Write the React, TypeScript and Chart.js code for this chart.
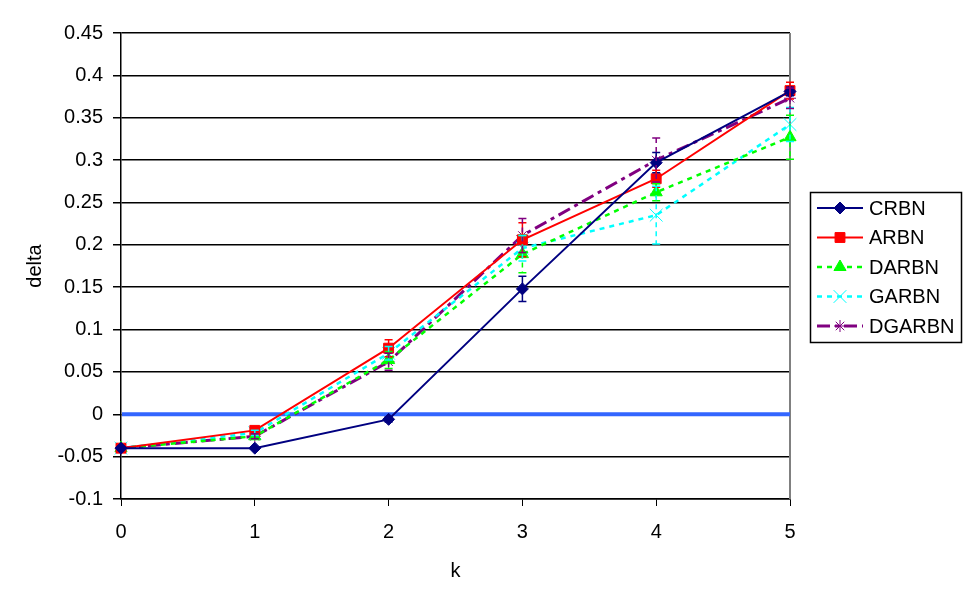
import React, { useEffect, useRef } from 'react';
import { Chart, registerables, Plugin } from 'chart.js';
import { drawPoint } from 'chart.js/helpers';

Chart.register(...registerables);

const kValues = [0, 1, 2, 3, 4, 5];
const seriesNames = ['CRBN', 'ARBN', 'DARBN', 'GARBN', 'DGARBN'];

const crbn = [-0.04, -0.04, -0.006, 0.148, 0.297, 0.381];
const arbn = [-0.04, -0.019, 0.078, 0.206, 0.278, 0.382];
const darbn = [-0.04, -0.026, 0.064, 0.189, 0.262, 0.327];
const garbn = [-0.04, -0.022, 0.072, 0.196, 0.235, 0.342];
const dgarbn = [-0.04, -0.026, 0.062, 0.211, 0.3, 0.373];

const crbnErr = [0, 0, 0.003, 0.015, 0.012, 0.005];
const arbnErr = [0, 0.003, 0.01, 0.02, 0.01, 0.01];
const darbnErr = [0, 0.003, 0.01, 0.022, 0.01, 0.026];
const garbnErr = [0, 0.003, 0.008, 0.015, 0.034, 0.02];
const dgarbnErr = [0, 0.003, 0.01, 0.02, 0.026, 0.012];

const FONT = "'Liberation Sans', Arial, sans-serif";

const styles = [
    { color: '#000080', dash: [] as number[], width: 2, point: 'rectRot', radius: 6, fill: true },
    { color: '#ff0000', dash: [] as number[], width: 2, point: 'rect', radius: 7, fill: true },
    { color: '#00ff00', dash: [5, 5], width: 2.5, point: 'triangle', radius: 7, fill: true },
    { color: '#00ffff', dash: [5, 5], width: 2.5, point: 'crossRot', radius: 9, fill: false },
    { color: '#800080', dash: [13, 5, 4, 5], width: 3, point: 'star', radius: 6, fill: false },
];

const values = [crbn, arbn, darbn, garbn, dgarbn];
const errors = [crbnErr, arbnErr, darbnErr, garbnErr, dgarbnErr];

const extrasPlugin: Plugin<'line'> = {
    id: 'extras',
    beforeDatasetsDraw(chart) {
        const { ctx, chartArea } = chart;
        const y = chart.scales.y;
        ctx.save();
        // grey right border
        ctx.strokeStyle = '#808080';
        ctx.lineWidth = 2;
        ctx.beginPath();
        ctx.moveTo(chartArea.right, chartArea.top);
        ctx.lineTo(chartArea.right, chartArea.bottom);
        ctx.stroke();
        // zero line
        const y0 = y.getPixelForValue(0);
        ctx.strokeStyle = '#3366ff';
        ctx.lineWidth = 4;
        ctx.beginPath();
        ctx.moveTo(chartArea.left + 1, y0);
        ctx.lineTo(chartArea.right, y0);
        ctx.stroke();
        ctx.restore();
    },
    afterDatasetsDraw(chart) {
        const { ctx } = chart;
        const xs = chart.scales.x;
        const ys = chart.scales.y;
        ctx.save();
        errors.forEach((errs, i) => {
            const st = styles[i];
            ctx.strokeStyle = st.color;
            ctx.lineWidth = 1.5;
            errs.forEach((e, j) => {
                if (!e) return;
                const px = xs.getPixelForValue(kValues[j]);
                const top = ys.getPixelForValue(values[i][j] + e);
                const bot = ys.getPixelForValue(values[i][j] - e);
                ctx.setLineDash(st.dash.length ? [5, 4] : []);
                ctx.beginPath();
                ctx.moveTo(px, top);
                ctx.lineTo(px, bot);
                ctx.stroke();
                ctx.setLineDash([]);
                ctx.beginPath();
                ctx.moveTo(px - 4, top);
                ctx.lineTo(px + 4, top);
                ctx.moveTo(px - 4, bot);
                ctx.lineTo(px + 4, bot);
                ctx.stroke();
            });
        });
        ctx.restore();
    },
    afterDraw(chart) {
        const { ctx } = chart;
        ctx.save();
        ctx.fillStyle = '#ffffff';
        ctx.fillRect(810, 192, 151, 150);
        ctx.strokeStyle = '#000000';
        ctx.lineWidth = 1.5;
        ctx.strokeRect(810.5, 192.5, 151, 150);
        ctx.font = `20px ${FONT}`;
        ctx.textBaseline = 'middle';
        ctx.textAlign = 'left';
        seriesNames.forEach((name, i) => {
            const st = styles[i];
            const ly = 208 + i * 29.5;
            ctx.strokeStyle = st.color;
            ctx.lineWidth = st.width;
            ctx.setLineDash(st.dash);
            ctx.beginPath();
            ctx.moveTo(817, ly);
            ctx.lineTo(863, ly);
            ctx.stroke();
            ctx.setLineDash([]);
            ctx.fillStyle = st.color;
            ctx.lineWidth = 1;
            drawPoint(ctx, { pointStyle: st.point as any, radius: st.radius, rotation: 0, borderWidth: 1 }, 840, ly);
            ctx.fillStyle = '#000000';
            ctx.fillText(name, 869, ly + 1);
        });
        ctx.restore();
    },
};

const App: React.FC = () => {
    const chartRef = useRef<HTMLCanvasElement>(null);

    useEffect(() => {
        document.body.style.margin = '0';
        let chart: Chart<'line'> | null = null;
        if (chartRef.current) {
            const ctx = chartRef.current.getContext('2d');
            if (ctx) {
                chart = new Chart(ctx, {
                    type: 'line',
                    data: {
                        datasets: seriesNames.map((name, i) => ({
                            label: name,
                            data: kValues.map((k, j) => ({ x: k, y: values[i][j] })),
                            borderColor: styles[i].color,
                            backgroundColor: styles[i].fill ? styles[i].color : 'transparent',
                            borderWidth: styles[i].width,
                            borderDash: styles[i].dash,
                            pointStyle: styles[i].point as any,
                            pointRadius: styles[i].radius,
                            pointBorderColor: styles[i].color,
                            pointBackgroundColor: styles[i].color,
                            pointBorderWidth: 1,
                            tension: 0,
                            clip: false as any,
                        })),
                    },
                    options: {
                        responsive: false,
                        animation: false,
                        layout: { padding: { top: 33, right: 180, bottom: 0, left: 0 } },
                        plugins: {
                            legend: { display: false },
                            tooltip: { enabled: false },
                        },
                        scales: {
                            x: {
                                type: 'linear',
                                min: 0,
                                max: 5,
                                ticks: {
                                    stepSize: 1,
                                    color: '#000',
                                    padding: 14,
                                    font: { family: FONT, size: 20 },
                                },
                                grid: {
                                    drawOnChartArea: false,
                                    drawTicks: true,
                                    tickLength: 7,
                                    color: '#000',
                                },
                                border: { color: '#000', width: 1.5 },
                                title: {
                                    display: true,
                                    text: 'k',
                                    color: '#000',
                                    font: { family: FONT, size: 20 },
                                    padding: { top: 0, bottom: 20 },
                                },
                                afterFit: (scale: any) => {
                                    scale.height = 104;
                                },
                            },
                            y: {
                                type: 'linear',
                                min: -0.1,
                                max: 0.45,
                                ticks: {
                                    stepSize: 0.05,
                                    color: '#000',
                                    padding: 10,
                                    font: { family: FONT, size: 20 },
                                    callback: (v: any) => String(Math.round(Number(v) * 100) / 100),
                                },
                                grid: {
                                    color: '#000',
                                    lineWidth: 1.5,
                                    tickLength: 8,
                                },
                                border: { color: '#000', width: 1.5 },
                                title: {
                                    display: true,
                                    text: 'delta',
                                    color: '#000',
                                    font: { family: FONT, size: 20 },
                                    padding: { top: 23, bottom: 0 },
                                },
                                afterFit: (scale: any) => {
                                    scale.width = 121;
                                },
                            },
                        },
                    },
                    plugins: [extrasPlugin],
                });
            }
        }
        return () => {
            if (chart) {
                chart.destroy();
            }
        };
    }, []);

    return <canvas ref={chartRef} width={970} height={603} style={{ display: 'block' }} />;
};

export default App;
